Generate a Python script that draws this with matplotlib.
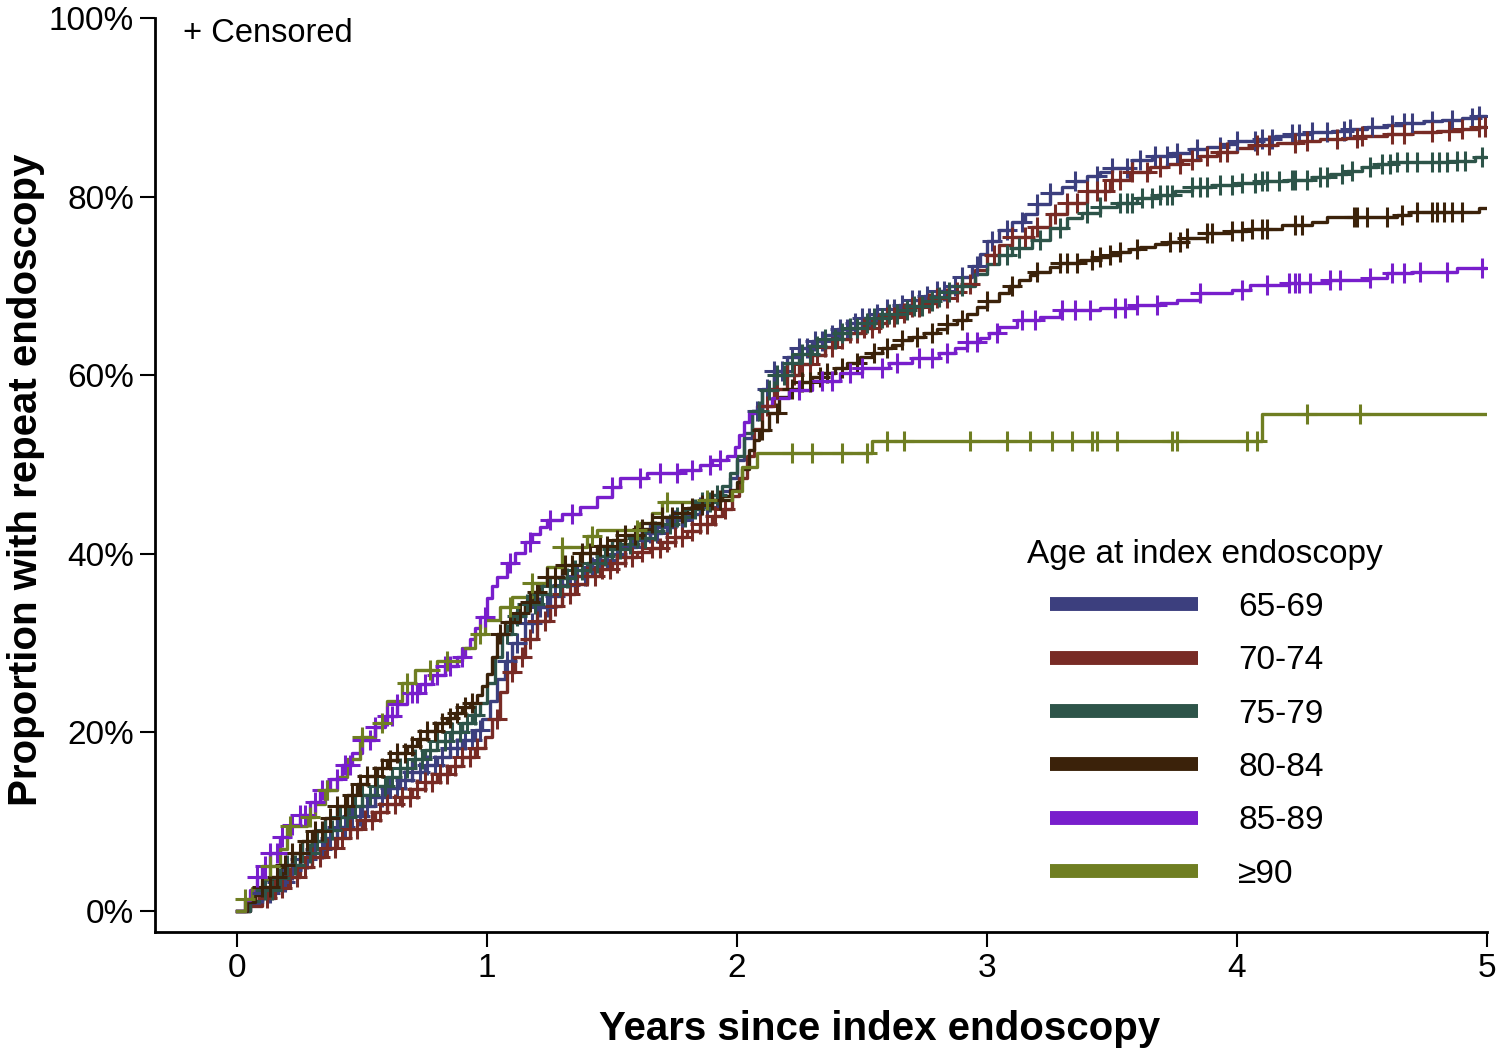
import numpy as np
import matplotlib
matplotlib.use("Agg")
import matplotlib.pyplot as plt
from matplotlib.lines import Line2D

plt.rcParams['font.family'] = ['Liberation Sans', 'DejaVu Sans']

# cumulative incidence step knots (years, %)
knots_6569 = [(0, 0), (0.05, 0.9), (0.1, 2.0), (0.15, 3.3), (0.2, 4.6), (0.25, 5.8), (0.3, 7.0), (0.35, 8.2),
              (0.4, 9.4), (0.45, 10.6), (0.5, 11.8), (0.55, 12.8), (0.6, 13.8), (0.65, 14.7), (0.7, 15.6),
              (0.75, 16.4), (0.8, 17.3), (0.85, 18.2), (0.9, 19.2), (0.95, 20.3), (0.98, 21.5), (1.01, 23.5),
              (1.04, 26.0), (1.07, 28.0), (1.1, 30.0), (1.15, 32.2), (1.2, 34.0), (1.25, 35.3), (1.3, 36.5),
              (1.35, 37.5), (1.4, 38.5), (1.45, 39.3), (1.5, 40.0), (1.55, 40.8), (1.6, 41.5), (1.65, 42.3),
              (1.7, 43.0), (1.75, 43.8), (1.8, 44.5), (1.85, 45.2), (1.9, 46.0), (1.94, 47.0), (1.97, 48.5),
              (2.0, 50.5), (2.03, 53.0), (2.06, 56.0), (2.1, 58.5), (2.15, 60.5), (2.2, 62.0), (2.25, 63.0),
              (2.3, 63.8), (2.35, 64.5), (2.4, 65.2), (2.45, 65.8), (2.5, 66.4), (2.55, 66.9), (2.6, 67.4),
              (2.65, 67.9), (2.7, 68.4), (2.75, 68.9), (2.8, 69.4), (2.85, 70.0), (2.9, 71.0), (2.94, 72.2),
              (2.97, 73.6), (3.0, 75.0), (3.05, 76.3), (3.1, 77.2), (3.15, 78.0), (3.2, 79.2), (3.25, 80.4),
              (3.3, 81.1), (3.35, 81.7), (3.4, 82.3), (3.45, 82.8), (3.5, 83.2), (3.58, 84.1), (3.66, 84.5),
              (3.74, 84.9), (3.81, 85.3), (3.88, 85.6), (3.94, 85.9), (4.0, 86.2), (4.08, 86.5), (4.15, 86.8),
              (4.22, 87.0), (4.3, 87.2), (4.38, 87.4), (4.45, 87.6), (4.52, 87.8), (4.6, 88.0), (4.67, 88.2),
              (4.75, 88.5), (4.82, 88.6), (4.9, 88.8), (4.96, 89.0)]
knots_7074 = [(0, 0), (0.05, 0.6), (0.1, 1.5), (0.15, 2.6), (0.2, 3.8), (0.25, 4.9), (0.3, 6.0), (0.35, 7.1),
              (0.4, 8.2), (0.45, 9.2), (0.5, 10.2), (0.55, 11.1), (0.6, 12.0), (0.65, 12.8), (0.7, 13.7),
              (0.75, 14.5), (0.8, 15.3), (0.85, 16.2), (0.9, 17.2), (0.95, 18.3), (0.99, 19.5), (1.02, 21.5),
              (1.05, 24.5), (1.08, 26.8), (1.11, 28.4), (1.15, 30.5), (1.2, 32.5), (1.25, 34.2), (1.3, 35.5),
              (1.35, 36.6), (1.4, 37.5), (1.45, 38.3), (1.5, 39.0), (1.55, 39.6), (1.6, 40.2), (1.65, 40.7),
              (1.7, 41.3), (1.75, 41.9), (1.8, 42.6), (1.85, 43.3), (1.9, 44.2), (1.94, 45.0), (1.98, 46.5),
              (2.01, 48.5), (2.04, 51.0), (2.07, 54.0), (2.1, 56.5), (2.15, 58.5), (2.2, 60.0), (2.25, 61.2),
              (2.3, 62.3), (2.35, 63.2), (2.4, 64.0), (2.45, 64.7), (2.5, 65.3), (2.55, 65.9), (2.6, 66.5),
              (2.65, 67.0), (2.7, 67.6), (2.75, 68.1), (2.8, 68.6), (2.85, 69.3), (2.9, 70.2), (2.95, 71.8),
              (3.0, 73.5), (3.05, 74.6), (3.1, 75.5), (3.18, 76.6), (3.25, 78.0), (3.32, 79.3), (3.4, 80.6),
              (3.49, 81.9), (3.57, 82.7), (3.65, 83.3), (3.72, 83.7), (3.78, 84.1), (3.85, 84.6), (3.92, 85.0),
              (4.0, 85.4), (4.08, 85.8), (4.16, 86.0), (4.25, 86.2), (4.33, 86.4), (4.42, 86.6), (4.5, 86.8),
              (4.6, 87.0), (4.7, 87.2), (4.8, 87.4), (4.9, 87.6), (4.97, 87.8)]
knots_7579 = [(0, 0), (0.05, 1.1), (0.1, 2.3), (0.15, 3.7), (0.2, 5.2), (0.25, 6.5), (0.3, 7.8), (0.35, 9.1),
              (0.4, 10.5), (0.45, 11.8), (0.5, 13.0), (0.55, 14.0), (0.6, 15.0), (0.65, 16.0), (0.7, 17.0),
              (0.75, 18.0), (0.8, 19.0), (0.85, 20.0), (0.9, 21.0), (0.94, 22.0), (0.97, 23.3), (1.0, 25.5),
              (1.03, 28.5), (1.06, 31.0), (1.1, 33.0), (1.15, 34.4), (1.2, 35.5), (1.25, 36.4), (1.3, 37.3),
              (1.35, 38.2), (1.4, 39.0), (1.45, 39.8), (1.5, 40.5), (1.55, 41.1), (1.6, 41.8), (1.65, 42.5),
              (1.7, 43.3), (1.75, 44.1), (1.8, 45.0), (1.85, 45.8), (1.9, 46.6), (1.94, 47.6), (1.97, 49.0),
              (2.0, 51.0), (2.03, 53.5), (2.06, 56.0), (2.1, 58.3), (2.15, 60.0), (2.2, 61.4), (2.25, 62.4),
              (2.3, 63.3), (2.35, 64.0), (2.4, 64.7), (2.45, 65.3), (2.5, 65.9), (2.55, 66.4), (2.6, 66.9),
              (2.65, 67.3), (2.7, 67.8), (2.75, 68.3), (2.8, 68.8), (2.85, 69.3), (2.9, 70.0), (2.95, 71.3),
              (3.0, 72.5), (3.05, 73.5), (3.1, 74.2), (3.18, 75.1), (3.25, 76.5), (3.32, 77.6), (3.38, 78.2),
              (3.45, 78.8), (3.52, 79.3), (3.6, 79.8), (3.68, 80.2), (3.75, 80.6), (3.82, 81.1), (3.9, 81.3),
              (4.0, 81.5), (4.1, 81.7), (4.2, 81.9), (4.3, 82.2), (4.37, 82.5), (4.44, 82.9), (4.5, 83.3),
              (4.56, 83.7), (4.62, 83.9), (4.85, 84.0), (4.95, 84.4)]
knots_8084 = [(0, 0), (0.04, 1.0), (0.07, 1.8), (0.1, 2.7), (0.14, 3.8), (0.18, 5.2), (0.22, 6.5), (0.26, 7.8),
              (0.3, 9.0), (0.35, 10.4), (0.4, 11.8), (0.44, 13.0), (0.48, 14.2), (0.52, 15.1), (0.56, 16.0),
              (0.6, 16.9), (0.64, 17.7), (0.68, 18.5), (0.72, 19.3), (0.76, 20.2), (0.8, 21.0), (0.84, 21.6),
              (0.87, 22.2), (0.9, 22.8), (0.93, 23.3), (0.96, 24.2), (0.98, 25.2), (1.0, 26.5), (1.02, 28.5),
              (1.04, 31.0), (1.07, 32.4), (1.11, 33.4), (1.15, 34.6), (1.18, 35.7), (1.21, 36.6), (1.24, 37.4),
              (1.3, 38.8), (1.37, 40.1), (1.44, 40.9), (1.5, 41.5), (1.55, 42.1), (1.6, 42.8), (1.65, 43.5),
              (1.7, 44.1), (1.75, 44.6), (1.8, 45.1), (1.85, 45.5), (1.9, 46.0), (1.94, 46.5), (1.97, 47.2),
              (2.0, 48.0), (2.02, 49.5), (2.05, 51.6), (2.07, 52.8), (2.09, 53.9), (2.13, 55.8), (2.17, 57.6),
              (2.21, 58.5), (2.25, 59.2), (2.3, 59.8), (2.34, 60.2), (2.39, 60.8), (2.44, 61.4), (2.49, 62.0),
              (2.54, 62.5), (2.58, 63.0), (2.62, 63.4), (2.66, 63.9), (2.7, 64.3), (2.75, 64.7), (2.8, 65.2),
              (2.84, 65.7), (2.88, 66.2), (2.92, 66.8), (2.96, 67.6), (3.0, 68.3), (3.05, 69.2), (3.09, 70.0),
              (3.13, 70.7), (3.17, 71.2), (3.2, 71.6), (3.25, 72.1), (3.29, 72.6), (3.37, 72.9), (3.45, 73.2),
              (3.49, 73.5), (3.53, 73.8), (3.57, 74.1), (3.61, 74.4), (3.67, 74.7), (3.72, 74.9), (3.8, 75.4),
              (3.88, 75.9), (3.97, 76.1), (4.04, 76.4), (4.18, 76.8), (4.3, 77.2), (4.36, 77.7), (4.64, 77.9),
              (4.69, 78.3), (4.97, 78.7)]
knots_8589 = [(0, 0), (0.03, 1.2), (0.05, 2.4), (0.08, 3.8), (0.1, 5.0), (0.13, 6.5), (0.17, 8.3), (0.21, 9.6),
              (0.25, 10.8), (0.29, 12.2), (0.33, 13.5), (0.37, 14.8), (0.42, 16.3), (0.46, 17.7), (0.5, 19.1),
              (0.55, 20.6), (0.59, 21.8), (0.64, 23.2), (0.68, 24.4), (0.73, 25.4), (0.78, 26.4), (0.83, 27.4),
              (0.88, 28.4), (0.91, 29.5), (0.93, 30.5), (0.95, 31.7), (0.97, 32.9), (1.0, 35.0), (1.02, 36.4),
              (1.04, 37.4), (1.08, 39.0), (1.11, 40.1), (1.15, 41.3), (1.18, 42.2), (1.21, 43.0), (1.24, 43.8),
              (1.3, 44.5), (1.37, 45.2), (1.44, 46.4), (1.5, 47.5), (1.53, 48.5), (1.64, 49.0), (1.77, 49.4),
              (1.85, 50.0), (1.9, 50.5), (1.96, 51.0), (1.99, 52.0), (2.01, 53.3), (2.03, 54.8), (2.05, 55.8),
              (2.08, 56.6), (2.14, 57.5), (2.21, 58.3), (2.3, 59.3), (2.41, 60.2), (2.5, 60.8), (2.61, 61.4),
              (2.7, 61.9), (2.81, 62.5), (2.87, 63.1), (2.92, 63.7), (2.97, 64.2), (3.01, 64.7), (3.05, 65.4),
              (3.12, 66.2), (3.21, 66.5), (3.29, 67.3), (3.45, 67.5), (3.6, 67.9), (3.69, 68.1), (3.76, 68.4),
              (3.85, 69.2), (3.98, 69.5), (4.05, 70.1), (4.21, 70.3), (4.37, 70.7), (4.53, 70.9), (4.6, 71.4),
              (4.7, 71.6), (4.88, 72.0)]
knots_90 = [(0, 0), (0.03, 1.3), (0.06, 2.6), (0.1, 3.5), (0.13, 5.0), (0.17, 7.0), (0.2, 9.5), (0.28, 10.5),
            (0.31, 12.0), (0.35, 13.5), (0.4, 15.0), (0.44, 17.0), (0.49, 19.5), (0.55, 21.0), (0.6, 23.5),
            (0.66, 25.5), (0.71, 27.0), (0.8, 28.0), (0.9, 29.5), (0.95, 31.0), (0.99, 32.6), (1.05, 34.0),
            (1.1, 35.2), (1.18, 36.7), (1.24, 38.5), (1.3, 40.8), (1.4, 42.0), (1.44, 42.7), (1.61, 43.4),
            (1.66, 44.6), (1.7, 45.8), (1.85, 46.0), (1.98, 47.0), (2.02, 49.7), (2.08, 51.3), (2.54, 52.6),
            (4.1, 55.6)]

# censoring times (years)
cens_6569 = [0.1, 0.13, 0.16, 0.19, 0.22, 0.25, 0.28, 0.31, 0.34, 0.37, 0.4, 0.43, 0.46, 0.49, 0.52, 0.55, 0.58,
             0.61, 0.64, 0.67, 0.7, 0.73, 0.76, 0.79, 0.82, 0.85, 0.88, 0.91, 0.94, 0.97, 1.08, 1.12, 1.15, 1.18,
             1.21, 1.24, 1.27, 1.3, 1.33, 1.36, 1.39, 1.42, 1.45, 1.48, 1.52, 1.55, 1.58, 1.62, 1.65, 1.68, 1.72,
             1.75, 1.78, 1.82, 1.85, 1.88, 1.92, 2.08, 2.12, 2.15, 2.18, 2.22, 2.25, 2.28, 2.31, 2.34, 2.38, 2.41,
             2.44, 2.47, 2.5, 2.53, 2.56, 2.6, 2.63, 2.66, 2.7, 2.73, 2.76, 2.8, 2.83, 2.87, 2.9, 2.96, 3.02,
             3.08, 3.14, 3.2, 3.25, 3.35, 3.44, 3.5, 3.56, 3.61, 3.67, 3.72, 3.76, 3.84, 3.93, 4.0, 4.07, 4.1,
             4.14, 4.22, 4.25, 4.3, 4.36, 4.43, 4.45, 4.54, 4.62, 4.67, 4.7, 4.78, 4.86, 4.94, 4.97]
cens_7074 = [0.12, 0.15, 0.18, 0.21, 0.24, 0.27, 0.3, 0.33, 0.36, 0.39, 0.42, 0.45, 0.48, 0.51, 0.54, 0.57, 0.6,
             0.63, 0.66, 0.69, 0.72, 0.75, 0.78, 0.81, 0.84, 0.87, 0.9, 0.93, 0.96, 1.04, 1.1, 1.14, 1.17, 1.2,
             1.23, 1.27, 1.3, 1.33, 1.36, 1.4, 1.43, 1.46, 1.49, 1.52, 1.55, 1.58, 1.62, 1.66, 1.69, 1.72, 1.75,
             1.78, 1.82, 1.85, 1.88, 1.91, 1.95, 2.12, 2.16, 2.2, 2.23, 2.26, 2.29, 2.32, 2.35, 2.38, 2.42, 2.45,
             2.48, 2.51, 2.54, 2.57, 2.6, 2.63, 2.67, 2.7, 2.73, 2.77, 2.8, 2.84, 2.88, 2.93, 3.03, 3.1, 3.15,
             3.2, 3.27, 3.32, 3.36, 3.4, 3.44, 3.47, 3.5, 3.53, 3.58, 3.64, 3.69, 3.77, 3.82, 3.88, 3.93, 3.96,
             4.08, 4.13, 4.23, 4.28, 4.4, 4.48, 4.5, 4.62, 4.67, 4.78, 4.85, 4.9, 4.97, 4.99]
cens_7579 = [0.11, 0.14, 0.17, 0.2, 0.23, 0.26, 0.29, 0.32, 0.35, 0.38, 0.41, 0.44, 0.47, 0.5, 0.53, 0.56, 0.59,
             0.62, 0.65, 0.68, 0.71, 0.74, 0.77, 0.8, 0.83, 0.86, 0.89, 0.92, 0.95, 1.08, 1.12, 1.16, 1.19, 1.22,
             1.25, 1.29, 1.32, 1.35, 1.38, 1.41, 1.44, 1.47, 1.5, 1.53, 1.57, 1.6, 1.63, 1.67, 1.7, 1.73, 1.76,
             1.79, 1.83, 1.86, 1.89, 1.92, 2.09, 2.13, 2.16, 2.19, 2.22, 2.26, 2.29, 2.32, 2.35, 2.39, 2.42, 2.45,
             2.48, 2.52, 2.55, 2.58, 2.61, 2.64, 2.68, 2.71, 2.74, 2.78, 2.81, 2.85, 2.9, 3.08, 3.13, 3.21, 3.29,
             3.4, 3.45, 3.53, 3.56, 3.58, 3.62, 3.66, 3.69, 3.72, 3.74, 3.82, 3.85, 3.88, 3.93, 3.98, 4.02, 4.07,
             4.1, 4.12, 4.17, 4.22, 4.23, 4.28, 4.33, 4.36, 4.42, 4.46, 4.53, 4.58, 4.61, 4.64, 4.68, 4.72, 4.78,
             4.81, 4.84, 4.88, 4.91, 4.98]
cens_8084 = [0.1, 0.13, 0.16, 0.19, 0.22, 0.25, 0.28, 0.31, 0.34, 0.37, 0.4, 0.43, 0.46, 0.49, 0.52, 0.55, 0.58,
             0.61, 0.64, 0.67, 0.7, 0.73, 0.76, 0.79, 0.82, 0.85, 0.88, 0.91, 0.94, 1.05, 1.09, 1.13, 1.17, 1.2,
             1.24, 1.27, 1.31, 1.34, 1.38, 1.41, 1.45, 1.48, 1.52, 1.55, 1.59, 1.62, 1.66, 1.7, 1.74, 1.78, 1.82,
             1.86, 1.9, 1.93, 2.1, 2.16, 2.22, 2.26, 2.29, 2.33, 2.36, 2.42, 2.48, 2.55, 2.6, 2.66, 2.72, 2.78,
             2.84, 2.9, 3.0, 3.1, 3.2, 3.29, 3.32, 3.36, 3.42, 3.45, 3.49, 3.53, 3.6, 3.73, 3.77, 3.8, 3.88, 3.9,
             3.98, 4.02, 4.06, 4.1, 4.12, 4.23, 4.26, 4.47, 4.48, 4.52, 4.6, 4.66, 4.72, 4.78, 4.8, 4.83, 4.86, 4.9]
cens_8589 = [0.08, 0.11, 0.13, 0.16, 0.18, 0.22, 0.25, 0.27, 0.31, 0.34, 0.36, 0.4, 0.43, 0.45, 0.5, 0.53, 0.55,
             0.6, 0.62, 0.64, 0.7, 0.72, 0.75, 0.8, 0.83, 0.85, 0.9, 0.99, 1.09, 1.17, 1.25, 1.34, 1.5, 1.61,
             1.69, 1.76, 1.82, 1.89, 1.93, 2.25, 2.34, 2.38, 2.45, 2.5, 2.58, 2.64, 2.73, 2.78, 2.84, 2.92, 2.96,
             3.04, 3.14, 3.19, 3.3, 3.35, 3.41, 3.51, 3.55, 3.6, 3.68, 3.85, 4.02, 4.12, 4.21, 4.23, 4.25, 4.29,
             4.37, 4.41, 4.53, 4.62, 4.67, 4.73, 4.84, 4.98]
cens_90 = [0.03, 0.13, 0.21, 0.29, 0.36, 0.5, 0.58, 0.68, 0.77, 0.84, 0.97, 1.09, 1.18, 1.3, 1.42, 1.6, 1.72, 1.88,
           2.22, 2.3, 2.42, 2.52, 2.6, 2.67, 2.93, 3.08, 3.17, 3.26, 3.34, 3.42, 3.44, 3.52, 3.74, 3.76, 4.04, 4.08,
           4.28, 4.49]

groups = ["65-69", "70-74", "75-79", "80-84", "85-89", "\u226590"]
colors = ["#3C3F7E", "#782B25", "#2D5449", "#3B220A", "#781ECC", "#6F7E22"]
all_knots = [knots_6569, knots_7074, knots_7579, knots_8084, knots_8589, knots_90]
all_cens = [cens_6569, cens_7074, cens_7579, cens_8084, cens_8589, cens_90]
follow_up_end = 5.0

fig = plt.figure(figsize=(15, 10.52), dpi=100)
ax = fig.add_axes([155 / 1500, 1 - 932 / 1052, (1487 - 155) / 1500, (932 - 18) / 1052])

for knots, cens, col in zip(all_knots, all_cens, colors):
    t = np.array([k[0] for k in knots] + [follow_up_end])
    p = np.array([k[1] for k in knots] + [knots[-1][1]])
    ax.plot(t, p, drawstyle="steps-post", color=col, lw=2.4, zorder=2)
    c = np.array(cens)
    idx = np.searchsorted(t, c, side="right") - 1
    ax.plot(c, p[idx], ls="none", marker="+", ms=14, mew=2.2, color=col, zorder=3)

ax.set_xlim(-0.328, 5.0)
ax.set_ylim(-2.35, 100)
ax.set_xticks([0, 1, 2, 3, 4, 5])
ax.set_yticks([0, 20, 40, 60, 80, 100])
ax.set_yticklabels([f"{v}%" for v in [0, 20, 40, 60, 80, 100]])
ax.tick_params(axis="both", direction="out", length=11, width=1.5, labelsize=24, pad=4)
for side in ["top", "right"]:
    ax.spines[side].set_visible(False)
for side in ["left", "bottom"]:
    ax.spines[side].set_linewidth(2.0)

ax.set_xlabel("Years since index endoscopy", fontsize=29, fontweight="bold")
ax.set_ylabel("Proportion with repeat endoscopy", fontsize=29, fontweight="bold")
ax.xaxis.set_label_coords((880 - 155) / 1332, -(1010 - 932) / 914)
ax.yaxis.set_label_coords(-(155 - 45) / 1332, (932 - 480) / 914)

fig.text(183 / 1500, 1 - 34 / 1052, "+ Censored", fontsize=23.5, va="center", ha="left")

# legend
fig.text(1027 / 1500, 1 - 555 / 1052, "Age at index endoscopy", fontsize=24, va="center", ha="left")
handles = [Line2D([], [], color=col, lw=10, solid_capstyle="butt") for col in colors]
ax.legend(handles, groups, loc="upper left", bbox_to_anchor=(1050 / 1500, 1 - 592 / 1052),
          bbox_transform=fig.transFigure, frameon=False, fontsize=24, handlelength=4.45,
          handletextpad=1.2, labelspacing=0.67, borderpad=0, borderaxespad=0)

fig.savefig("out.png", dpi=100)
